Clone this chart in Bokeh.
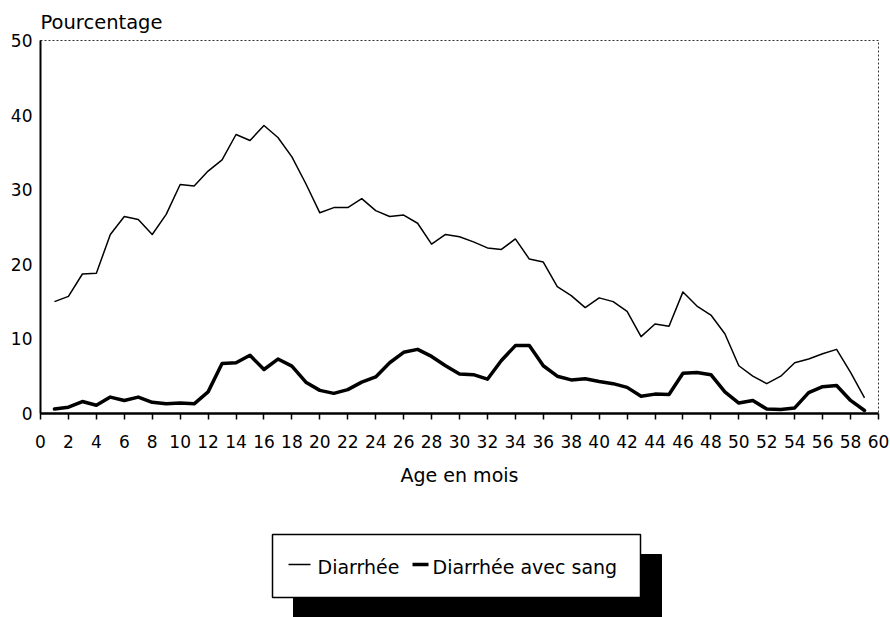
from bokeh.plotting import figure
from bokeh.models import Range1d, FixedTicker, ColumnDataSource
from bokeh.layouts import column
from bokeh.embed import file_html
from bokeh.resources import INLINE
from bokeh.core.properties import value

# ---- data ----
months = list(range(1, 60))
diarrhee = [15.0, 15.7, 18.7, 18.8, 24.0, 26.4, 26.0, 24.0, 26.7, 30.7,
            30.5, 32.5, 34.0, 37.4, 36.6, 38.6, 37.0, 34.4, 30.8, 26.9,
            27.6, 27.6, 28.8, 27.2, 26.4, 26.6, 25.5, 22.7, 24.0, 23.7,
            23.0, 22.2, 22.0, 23.4, 20.7, 20.3, 17.0, 15.8, 14.2, 15.5,
            15.0, 13.7, 10.3, 12.0, 11.7, 16.3, 14.4, 13.2, 10.7, 6.4,
            5.0, 4.0, 5.0, 6.8, 7.3, 8.0, 8.6, 5.5, 2.1]
diarrhee_sang = [0.6, 0.85, 1.6, 1.1, 2.2, 1.75, 2.2, 1.5, 1.3, 1.4,
                 1.3, 2.9, 6.7, 6.8, 7.8, 5.9, 7.3, 6.35, 4.2, 3.1,
                 2.7, 3.2, 4.2, 4.9, 6.8, 8.2, 8.6, 7.65, 6.4, 5.3,
                 5.2, 4.6, 7.1, 9.1, 9.1, 6.4, 5.0, 4.5, 4.65, 4.3,
                 4.0, 3.5, 2.3, 2.6, 2.55, 5.4, 5.5, 5.2, 2.9, 1.4,
                 1.75, 0.6, 0.55, 0.75, 2.8, 3.6, 3.75, 1.75, 0.4]
x_ticks = list(range(0, 61, 2))
y_ticks = [0, 10, 20, 30, 40, 50]
series_names = ["Diarrhée", "Diarrhée avec sang"]
title_text = "Pourcentage"
x_label = "Age en mois"

FONT = "DejaVu Sans"
W = 890
BL, BR = 40, 12  # left / right borders (frame spans 40..878)

# ---- main chart ----
p = figure(width=W, height=510, output_backend="svg", toolbar_location=None,
           x_range=Range1d(0, 60), y_range=Range1d(0, 50),
           min_border_left=BL, min_border_right=BR, min_border_top=40,
           min_border_bottom=97, title=title_text)
p.title.text_font = FONT
p.title.text_font_size = "19.5px"
p.title.text_font_style = "normal"
p.title.text_color = "black"
p.title.align = "left"
p.title.standoff = 14

p.xgrid.visible = False
p.ygrid.visible = False
p.outline_line_color = "black"
p.outline_line_width = 1
p.outline_line_dash = "2 2"
p.outline_line_alpha = 0.8

xa = p.xaxis[0]
xa.ticker = FixedTicker(ticks=x_ticks)
xa.axis_line_width = 2.5
xa.major_tick_out = 6
xa.major_tick_in = 0
xa.minor_tick_out = 0
xa.major_tick_line_width = 1.5
xa.major_label_text_font = FONT
xa.major_label_text_font_size = "17px"
xa.major_label_text_color = "black"
xa.major_label_standoff = 15
xa.axis_label = x_label
xa.axis_label_text_font = FONT
xa.axis_label_text_font_size = "19px"
xa.axis_label_text_font_style = "normal"
xa.axis_label_text_color = "black"
xa.axis_label_standoff = 13

ya = p.yaxis[0]
ya.ticker = FixedTicker(ticks=y_ticks)
ya.axis_line_width = 2
ya.major_tick_out = 0
ya.major_tick_in = 0
ya.minor_tick_out = 0
ya.major_label_text_font = FONT
ya.major_label_text_font_size = "17px"
ya.major_label_text_color = "black"
ya.major_label_standoff = 8

src = ColumnDataSource(dict(m=months, d=diarrhee, s=diarrhee_sang))
p.line("m", "d", source=src, line_color="black", line_width=1.5,
       line_join="round")
p.line("m", "s", source=src, line_color="black", line_width=3.5,
       line_join="round", line_cap="round")

# ---- legend panel (page-pixel layout figure, frame aligned with chart) ----
LH = 107
lg = figure(width=W, height=LH, output_backend="svg", toolbar_location=None,
            x_range=Range1d(BL, W - BR), y_range=Range1d(LH, 0),
            min_border_left=BL, min_border_right=BR,
            min_border_top=0, min_border_bottom=0)
lg.axis.visible = False
lg.grid.visible = False
lg.outline_line_color = None

box = dict(left=272, right=640, top=24, bottom=87)
shadow_off = (21, 20)
lg.quad(left=box["left"] + shadow_off[0], right=box["right"] + shadow_off[0],
        top=box["top"] + shadow_off[1], bottom=LH + 5,
        fill_color="black", line_color="black")
lg.quad(left=box["left"], right=box["right"], top=box["top"], bottom=box["bottom"],
        fill_color="white", line_color="black", line_width=1.5)
ly = 54
lg.segment(x0=[288, 412], y0=[ly, ly], x1=[310, 428], y1=[ly, ly],
           line_color="black", line_width=[1.5, 3.5])
lg.text(x=[317, 432], y=[ly + 2, ly + 2], text=series_names,
        text_font=value(FONT), text_font_size="19px",
        text_baseline="middle", text_align="left", text_color="black")

layout = column(p, lg, spacing=0)
open("out.html", "w").write(file_html(layout, INLINE))
